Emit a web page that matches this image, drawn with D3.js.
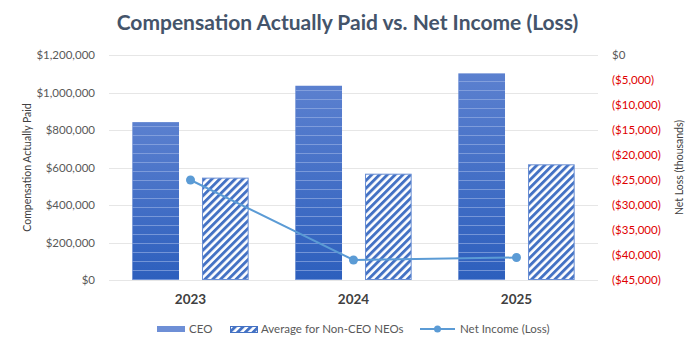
<!DOCTYPE html>
<html><head><meta charset="utf-8">
<script src="https://cdn.jsdelivr.net/npm/d3@7"></script>
<style>body{margin:0;background:#fff;font-family:Lato,"Open Sans",sans-serif;}</style>
</head><body><svg id="c" width="695" height="350"></svg>
<script>
const years = ["2023","2024","2025"];
const ceo = [842000, 1036000, 1102000];
const nonCeo = [546000, 567000, 617000];
const netIncome = [-25000, -41000, -40500];
const leftTicks = [0,200000,400000,600000,800000,1000000,1200000];
const rightTicks = [0,-5000,-10000,-15000,-20000,-25000,-30000,-35000,-40000,-45000];
const seriesNames = ["CEO","Average for Non-CEO NEOs","Net Income (Loss)"];

const svg = d3.select("#c");
const W=695,H=350;
const m={l:109,r:97,t:55,b:70};
const x0 = d3.scaleBand().domain(years).range([m.l, W-m.r]).paddingInner(0).paddingOuter(0);
const x1 = d3.scaleBand().domain(["ceo","non"]).range([0,x0.bandwidth()]).paddingInner(0.33).paddingOuter(0.335);
const yL = d3.scaleLinear().domain([0,1200000]).range([H-m.b, m.t]);
const yR = d3.scaleLinear().domain([-45000,0]).range([H-m.b, m.t]);

const defs = svg.append("defs");
const g1 = defs.append("linearGradient").attr("id","ceoGrad").attr("x1",0).attr("y1",0).attr("x2",0).attr("y2",1);
g1.append("stop").attr("offset","0%").attr("stop-color","#5b80cf");
g1.append("stop").attr("offset","100%").attr("stop-color","#2d5fbd");
const p = defs.append("pattern").attr("id","lines").attr("patternUnits","userSpaceOnUse").attr("width",10).attr("height",9);
p.append("rect").attr("x",0).attr("y",0).attr("width",10).attr("height",1).attr("fill","#9db4e6").attr("opacity",0.6);
const h = defs.append("pattern").attr("id","hatch").attr("patternUnits","userSpaceOnUse").attr("width",5.5).attr("height",5.5).attr("patternTransform","rotate(45)");
h.append("rect").attr("width",5.5).attr("height",5.5).attr("fill","#fff");
h.append("rect").attr("width",2.9).attr("height",5.5).attr("fill","#4472c4");

// gridlines
svg.append("g").selectAll("line").data(leftTicks).join("line")
  .attr("x1",m.l).attr("x2",W-m.r).attr("y1",d=>Math.round(yL(d))+0.5).attr("y2",d=>Math.round(yL(d))+0.5)
  .attr("stroke","#e6e6e6").attr("stroke-width",1);

// title
svg.append("text").attr("x",W/2).attr("y",30).attr("text-anchor","middle")
  .attr("font-size",21).attr("font-weight","bold").attr("fill","#44546a").text("Compensation Actually Paid vs. Net Income (Loss)");

// left axis
const la = svg.append("g").attr("transform",`translate(${m.l},0)`)
  .call(d3.axisLeft(yL).tickValues(leftTicks).tickSize(0).tickPadding(14).tickFormat(d=>"$"+d3.format(",")(d)));
la.select(".domain").remove();
la.selectAll("text").attr("font-size",11.5).attr("fill","#595959").attr("font-family","Lato");

// right axis
const ra = svg.append("g").attr("transform",`translate(${W-m.r},0)`)
  .call(d3.axisRight(yR).tickValues(rightTicks).tickSize(0).tickPadding(14)
    .tickFormat(d=> d===0 ? "$0" : "($"+d3.format(",")(-d)+")"));
ra.select(".domain").remove();
ra.selectAll("text").attr("font-size",11.5).attr("font-family","Lato").attr("fill",d=>d===0?"#595959":"#e00000");

// axis titles
svg.append("text").attr("transform",`translate(31,${(m.t+H-m.b)/2}) rotate(-90)`).attr("text-anchor","middle")
  .attr("font-size",10.5).attr("fill","#404040").text("Compensation Actually Paid");
svg.append("text").attr("transform",`translate(683,${(m.t+H-m.b)/2}) rotate(-90)`).attr("text-anchor","middle")
  .attr("font-size",10.5).attr("fill","#404040").text("Net Loss (thousands)");

// x axis labels
svg.append("g").selectAll("text").data(years).join("text")
  .attr("x",d=>x0(d)+x0.bandwidth()/2).attr("y",H-m.b+24).attr("text-anchor","middle")
  .attr("font-size",13.5).attr("font-weight","bold").attr("fill","#404040").text(d=>d);

// bars
const bars = svg.append("g");
years.forEach((yr,i)=>{
  const bx = x0(yr)+x1("ceo"), bw=x1.bandwidth();
  bars.append("rect").attr("x",bx).attr("y",yL(ceo[i])).attr("width",bw).attr("height",yL(0)-yL(ceo[i])).attr("fill","url(#ceoGrad)");
  bars.append("rect").attr("x",bx).attr("y",yL(ceo[i])).attr("width",bw).attr("height",yL(0)-yL(ceo[i])).attr("fill","url(#lines)");
  const nx = x0(yr)+x1("non");
  bars.append("rect").attr("x",nx+0.5).attr("y",yL(nonCeo[i])+0.5).attr("width",bw-1).attr("height",yL(0)-yL(nonCeo[i])-1)
    .attr("fill","url(#hatch)").attr("stroke","#6a8fd4").attr("stroke-width",1);
});

// line
const line = d3.line().x((d,i)=>x0(years[i])+x0.bandwidth()/2).y(d=>yR(d));
svg.append("path").datum(netIncome).attr("d",line).attr("fill","none").attr("stroke","#5b9bd5").attr("stroke-width",2);
svg.append("g").selectAll("circle").data(netIncome).join("circle")
  .attr("cx",(d,i)=>x0(years[i])+x0.bandwidth()/2).attr("cy",d=>yR(d)).attr("r",4.5).attr("fill","#5b9bd5");

// legend
const ly = 329;
const lg = svg.append("g").attr("font-size",11.5).attr("fill","#595959");
lg.append("rect").attr("x",157).attr("y",ly-3).attr("width",28).attr("height",6).attr("fill","#6e8fd6");
lg.append("text").attr("x",189).attr("y",ly+4).attr("fill","#595959").text(seriesNames[0]);
lg.append("rect").attr("x",230.5).attr("y",ly-2.5).attr("width",27).attr("height",6).attr("fill","url(#hatch)").attr("stroke","#4472c4").attr("stroke-width",1);
lg.append("text").attr("x",261).attr("y",ly+4).attr("fill","#595959").text(seriesNames[1]);
lg.append("line").attr("x1",420).attr("x2",455).attr("y1",ly).attr("y2",ly).attr("stroke","#5b9bd5").attr("stroke-width",2);
lg.append("circle").attr("cx",437.5).attr("cy",ly).attr("r",3.5).attr("fill","#5b9bd5");
lg.append("text").attr("x",460).attr("y",ly+4).attr("fill","#595959").text(seriesNames[2]);
</script></body></html>
